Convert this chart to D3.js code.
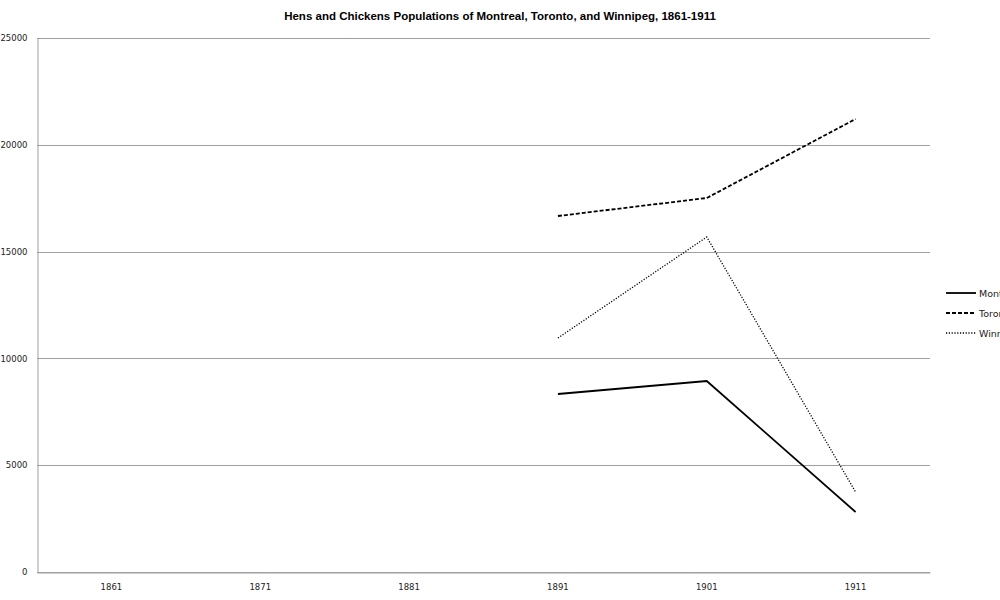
<!DOCTYPE html>
<html><head><meta charset="utf-8">
<script src="https://cdn.jsdelivr.net/npm/d3@7"></script>
<style>body{margin:0;background:#fff}svg{display:block}</style>
</head><body>
<script>
const categories = ["1861","1871","1881","1891","1901","1911"];
const montreal = [null,null,null,8333,8942,2809];
const toronto  = [null,null,null,16667,17509,21208];
const winnipeg = [null,null,null,10955,15683,3745];
const yTicks = [0,5000,10000,15000,20000,25000];
const seriesNames = ["Montreal","Toronto","Winnipeg"];
const title = "Hens and Chickens Populations of Montreal, Toronto, and Winnipeg, 1861-1911";

const W=1000,H=600, L=37,R=930,T=38,B=572;
const svg=d3.select("body").append("svg").attr("width",W).attr("height",H);
const x=d3.scaleBand().domain(categories).range([L,R]);
const y=d3.scaleLinear().domain([0,25000]).range([B,T]);
const font="DejaVu Sans";

svg.append("text").attr("x",500).attr("y",20).attr("text-anchor","middle")
  .attr("font-family","Liberation Sans").attr("font-weight","bold").attr("font-size",11.5)
  .attr("fill","#000").text(title);

// gridlines
svg.append("g").selectAll("line").data(yTicks).join("line")
  .attr("x1",L).attr("x2",R).attr("y1",d=>Math.round(y(d))+0.5).attr("y2",d=>Math.round(y(d))+0.5)
  .attr("stroke","#a0a0a0").attr("stroke-width",1);
// y axis
const ya=svg.append("g").attr("transform",`translate(${L+0.5},0)`)
  .call(d3.axisLeft(y).tickValues(yTicks).tickSize(0).tickPadding(10).tickFormat(d3.format("d")));
ya.select(".domain").attr("stroke","#a0a0a0");
ya.selectAll("text").attr("font-family",font).attr("font-size",8.5).attr("fill","#222");
// x axis
const xa=svg.append("g").attr("transform",`translate(0,${B+0.5})`)
  .call(d3.axisBottom(x).tickSize(0).tickPadding(11));
xa.select(".domain").attr("stroke","#a0a0a0");
xa.selectAll("text").attr("font-family",font).attr("font-size",8.5).attr("fill","#222");

const styles=[{dash:null,w:1.8},{dash:"4,2",w:1.8},{dash:"1.2,1.6",w:1.3}];
const data=[montreal,toronto,winnipeg];
const line=d3.line().defined(d=>d.v!=null).x(d=>x(d.c)+x.bandwidth()/2).y(d=>y(d.v));
data.forEach((arr,i)=>{
  const pts=categories.map((c,j)=>({c,v:arr[j]}));
  svg.append("path").attr("d",line(pts)).attr("fill","none").attr("stroke","#000")
    .attr("stroke-width",styles[i].w).attr("stroke-dasharray",styles[i].dash);
});
// legend
const lg=svg.append("g");
seriesNames.forEach((n,i)=>{
  const ly=293+i*20;
  lg.append("line").attr("x1",946).attr("x2",976).attr("y1",ly).attr("y2",ly)
    .attr("stroke","#000").attr("stroke-width",styles[i].w).attr("stroke-dasharray",styles[i].dash);
  lg.append("text").attr("x",979).attr("y",ly+3.5).attr("font-family",font).attr("font-size",9.5)
    .attr("fill","#222").text(n);
});
</script>
</body></html>
